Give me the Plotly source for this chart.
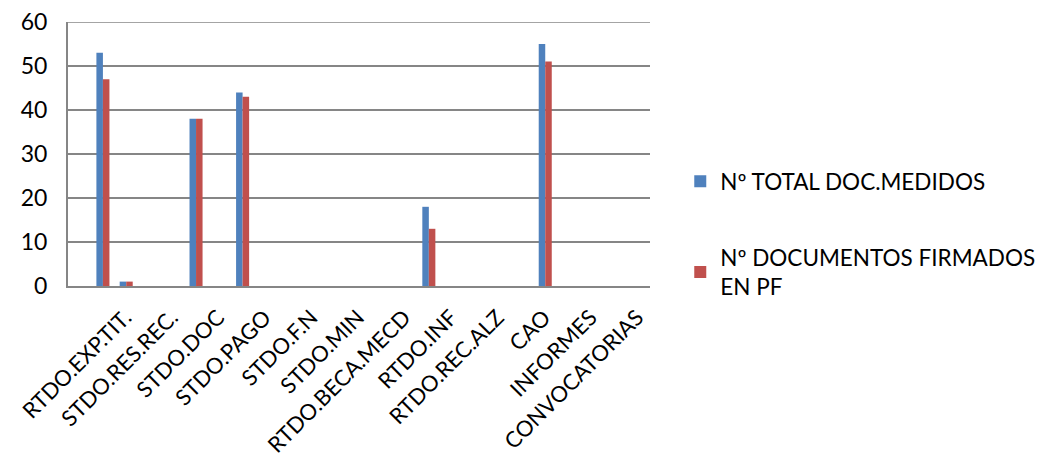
import plotly.graph_objects as go

# 25 category slots; labels shown on every other slot
slots = list(range(25))
label_slots = [1.95, 3.95, 5.95, 7.95, 9.95, 11.95, 13.95, 15.95, 17.95, 19.95, 21.95, 23.95]
labels = ["RTDO.EXP.TIT.", "STDO.RES.REC.", "STDO.DOC", "STDO.PAGO", "STDO.F.N",
          "STDO.MIN", "RTDO.BECA.MECD", "RTDO.INF", "RTDO.REC.ALZ", "CAO",
          "INFORMES", "CONVOCATORIAS"]
y_ticks = [0, 10, 20, 30, 40, 50, 60]
y_max = 60

total = [0, 53, 1, 0, 0, 38, 0, 44, 0, 0, 0, 0, 0, 0, 0, 18, 0, 0, 0, 0, 55, 0, 0, 0, 0]
firmados = [0, 47, 1, 0, 0, 38, 0, 43, 0, 0, 0, 0, 0, 0, 0, 13, 0, 0, 0, 0, 51, 0, 0, 0, 0]

FONT = "Lato"
GRID = "#868686"
fig = go.Figure()
fig.add_trace(go.Bar(x=slots, y=total, name="Nº TOTAL DOC.MEDIDOS",
                     marker=dict(color="#4F81BD", line=dict(width=0)), legendgroup="a"))
fig.add_trace(go.Bar(x=slots, y=firmados, name="Nº DOCUMENTOS FIRMADOS<br>EN PF",
                     marker=dict(color="#C0504D", line=dict(width=0)), legendgroup="b"))

fig.update_layout(
    width=1045, height=456,
    margin=dict(l=60, r=403, t=14, b=178, autoexpand=False),
    paper_bgcolor="white", plot_bgcolor="white",
    barmode="group", bargap=0.44, bargroupgap=0,
    font=dict(family=FONT, size=23, color="black"),
    showlegend=True, hovermode=False,
    legend=dict(x=1.052, xanchor="left", y=0.477, yanchor="top",
                font=dict(size=22.5, family=FONT), tracegroupgap=44,
                itemwidth=30, bgcolor="rgba(0,0,0,0)", borderwidth=0),
)
# top gridline (at the axis maximum) drawn as a layout line
fig.add_hline(y=y_max, line=dict(color=GRID, width=1.5), layer="below")

fig.update_xaxes(range=[-0.5, 24.5], tickmode="array", tickvals=label_slots, ticktext=labels,
                 tickangle=-45, showgrid=False, showline=True, mirror=False,
                 linecolor=GRID, linewidth=2, showspikes=False,
                 ticks="", ticklabelstandoff=8, tickfont=dict(size=22, family=FONT),
                 zeroline=False, automargin=False)
fig.update_yaxes(range=[0, y_max], tickmode="array", tickvals=y_ticks, showgrid=True,
                 gridcolor=GRID, gridwidth=1.5, showline=True, mirror=False, linecolor=GRID,
                 linewidth=2, ticks="", ticklabelstandoff=14, tickfont=dict(size=23, family=FONT),
                 showspikes=False, ticklabeloverflow="allow", zeroline=False, automargin=False)

fig.write_html("out.html")
